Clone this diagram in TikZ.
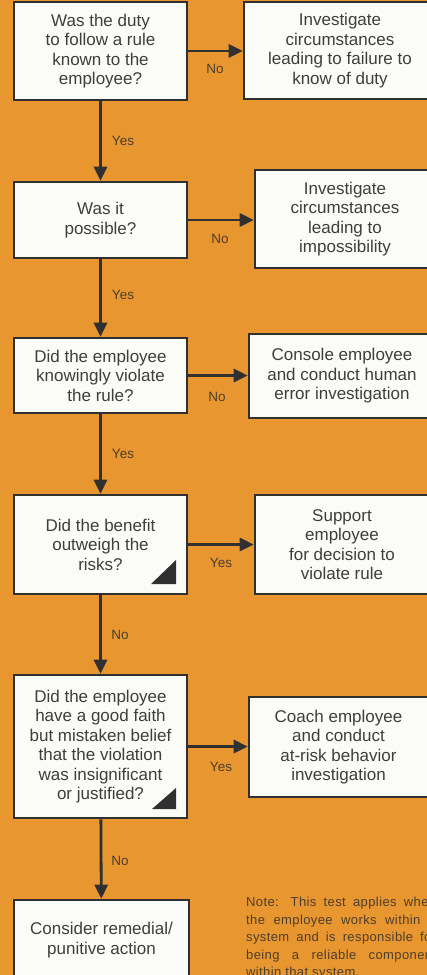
\documentclass[tikz,border=0pt]{standalone}
\usepackage{fontspec}
\setmainfont{Liberation Sans}
\newfontfamily\notefont[LetterSpace=3]{Liberation Sans}
\usetikzlibrary{arrows.meta}
\definecolor{bg}{RGB}{231,150,48}
\definecolor{boxfill}{RGB}{251,251,248}
\definecolor{edge}{RGB}{48,48,48}
\definecolor{txt}{RGB}{62,62,62}
\definecolor{lbl}{RGB}{78,62,44}
\tikzset{
  box/.style={draw=edge, fill=boxfill, line width=2.6pt, rectangle, align=center,
    text=txt, font=\fontsize{17}{19.5}\selectfont, inner sep=0pt},
  arr/.style={draw=edge, line width=2.8pt, -{Triangle[length=14pt,width=13pt]}},
  lab/.style={text=lbl, font=\fontsize{13.5}{15}\selectfont, inner sep=0pt},
  corner/.style={fill=edge}
}
\begin{document}
\begin{tikzpicture}[x=1pt,y=-1pt]
\useasboundingbox (0,0) rectangle (427,975);
\fill[bg] (0,0) rectangle (427,975);
\clip (0,0) rectangle (427,975);
% question boxes
\node[box, minimum width=173pt, minimum height=98pt] (q1) at (100.5,51) {Was the duty\\to follow a rule\\known to the\\employee?};
\node[box, minimum width=173pt, minimum height=76pt] (q2) at (100.5,220) {Was it\\possible?};
\node[box, minimum width=173pt, minimum height=75pt] (q3) at (100.5,375.5) {Did the employee\\knowingly violate\\the rule?};
\node[box, minimum width=173pt, minimum height=99pt] (q4) at (100.5,544.5) {Did the benefit\\outweigh the\\risks?};
\node[box, minimum width=173pt, minimum height=143pt] (q5) at (100.5,746.5) {Did the employee\\have a good faith\\but mistaken belief\\that the violation\\was insignificant\\or justified?};
\node[box, minimum width=175pt, minimum height=80pt] (q6) at (101.5,940) {Consider remedial/\\punitive action};
% result boxes
\node[box, minimum width=192pt, minimum height=97pt] (r1) at (340,50.5) {Investigate\\circumstances\\leading to failure to\\know of duty};
\node[box, minimum width=180pt, minimum height=98pt] (r2) at (345,219) {Investigate\\circumstances\\leading to\\impossibility};
\node[box, minimum width=186pt, minimum height=84pt] (r3) at (342,376) {Console employee\\and conduct human\\error investigation};
\node[box, minimum width=174pt, minimum height=99pt] (r4) at (342,544.5) {Support\\employee\\for decision to\\violate rule};
\node[box, minimum width=179pt, minimum height=100pt] (r5) at (338.5,747) {Coach employee\\and conduct\\at-risk behavior\\investigation};
% corner marks
\fill[corner] (151,584) -- (176,584) -- (176,560) -- cycle;
\fill[corner] (152,809) -- (176,809) -- (176,788) -- cycle;
% vertical connectors
\draw[arr] (q1) -- (q2);
\draw[arr] (q2) -- (q3);
\draw[arr] (q3) -- (q4);
\draw[arr] (q4) -- (q5);
\draw[arr] (q5) -- (q6);
% horizontal connectors
\draw[arr] (q1.east) -- (q1.east -| r1.west);
\draw[arr] (q2.east) -- (q2.east -| r2.west);
\draw[arr] (q3.east) -- (q3.east -| r3.west);
\draw[arr] (q4.east) -- (q4.east -| r4.west);
\draw[arr] (q5.east) -- (q5.east -| r5.west);
% labels
\node[lab] (l1) at (215,69) {No};
\node[lab] (l2) at (123,141) {Yes};
\node[lab] (l3) at (220,239) {No};
\node[lab] (l4) at (123,295) {Yes};
\node[lab] (l5) at (217,397) {No};
\node[lab] (l6) at (123,454) {Yes};
\node[lab] (l7) at (221,563) {Yes};
\node[lab] (l8) at (120,635) {No};
\node[lab] (l9) at (221,767) {Yes};
\node[lab] (l10) at (120,861) {No};
% note
\node[anchor=north west, inner sep=0pt, text width=190pt, align=justify, text=lbl,
  font=\notefont\fontsize{13}{17.5}\selectfont] (note) at (246,897)
  {Note: This test applies when\linebreak the employee works within a\linebreak system and is responsible for\linebreak being a reliable component\linebreak within that system.};
\end{tikzpicture}
\end{document}
